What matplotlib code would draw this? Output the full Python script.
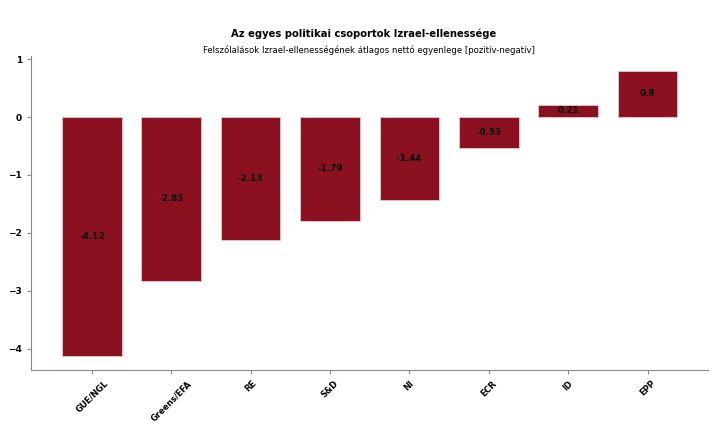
import matplotlib.pyplot as plt

groups = ['GUE/NGL', 'Greens/EFA', 'RE', 'S&D', 'NI', 'ECR', 'ID', 'EPP']
values = [-4.12, -2.83, -2.13, -1.79, -1.44, -0.53, 0.21, 0.8]

fig, ax = plt.subplots(figsize=(7.27, 4.28), dpi=100)
fig.subplots_adjust(left=0.043, right=0.974, top=0.868, bottom=0.136)

bars = ax.bar(groups, values, width=0.75, color='#8b1020', edgecolor='#e8c8cc', linewidth=0.6)

for bar, v in zip(bars, values):
    ax.text(bar.get_x() + bar.get_width() / 2, v / 2, f'{v}',
            ha='center', va='center', fontsize=6.3, fontweight='bold', color='black')

fig.text(0.5, 0.922, 'Az egyes politikai csoportok Izrael-ellenessége',
         ha='center', va='center', fontsize=7.2, fontweight='bold')
fig.text(0.508, 0.883, 'Felszólalások Izrael-ellenességének átlagos nettó egyenlege [pozitív-negatív]',
         ha='center', va='center', fontsize=6.1)

ax.spines['top'].set_visible(False)
ax.spines['right'].set_visible(False)
ax.spines['left'].set_color('#888888')
ax.spines['bottom'].set_color('#888888')
ax.tick_params(colors='#888888', labelcolor='black', labelsize=6.5, length=3)
for lbl in ax.get_xticklabels():
    lbl.set_rotation(45)
    lbl.set_fontsize(6)
    lbl.set_fontweight('bold')
for lbl in ax.get_yticklabels():
    lbl.set_fontweight('bold')

plt.savefig('out.png', dpi=100)
